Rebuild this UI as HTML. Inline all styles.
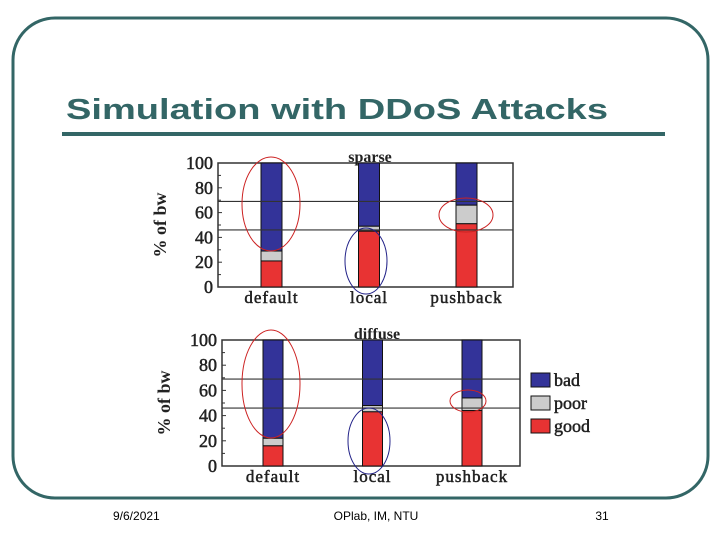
<!DOCTYPE html>
<html><head><meta charset="utf-8"><style>
html,body{margin:0;padding:0;background:#fff;}
svg{display:block;font-family:"Liberation Serif",serif;}
</style></head><body>
<svg id="s" width="720" height="540" viewBox="0 0 720 540">
<rect x="13" y="18" width="695" height="480" rx="42" ry="42" fill="none" stroke="#336666" stroke-width="3"/>
<text x="66" y="119" font-family="Liberation Sans, sans-serif" font-weight="bold" font-size="29" fill="#336666" textLength="542" lengthAdjust="spacingAndGlyphs">Simulation with DDoS Attacks</text>
<rect x="62" y="132" width="603" height="4" fill="#336666"/>
<text x="113" y="520" font-family="Liberation Sans, sans-serif" font-size="12" fill="#000">9/6/2021</text>
<text x="376" y="520" text-anchor="middle" font-family="Liberation Sans, sans-serif" font-size="12" fill="#000">OPlab, IM, NTU</text>
<text x="602" y="520" text-anchor="middle" font-family="Liberation Sans, sans-serif" font-size="12" fill="#000">31</text>
<g id="charts"></g>
</svg>
<script>
const categories=["default","local","pushback"];
const sparseGood=[21,45,51];
const sparsePoor=[8,4,15];
const diffuseGood=[16,43,44];
const diffusePoor=[6,5,10];
const yTicks=[0,20,40,60,80,100];
const refLines=[69,46];
const NS="http://www.w3.org/2000/svg";
const root=document.getElementById('charts');
function mk(t,a,p){const e=document.createElementNS(NS,t);for(const k in a)e.setAttribute(k,a[k]);(p||root).appendChild(e);return e;}
function chart(cfg,good,poor){
  const g=mk('g',{});
  
  
  const y=v=>cfg.y0-(cfg.y0-cfg.y100)*v/100;
  const bx=i=>cfg.bx[0]+i*cfg.step;
  mk('rect',{x:cfg.left,y:cfg.y100,width:cfg.right-cfg.left,height:cfg.y0-cfg.y100,fill:'none',stroke:'#333','stroke-width':1.5},g);
  yTicks.forEach(t=>{
    const tx=mk('text',{x:cfg.left-5,y:y(t)+6,'text-anchor':'end','font-size':18,fill:'#222',stroke:'#222','stroke-width':0.5},g);tx.textContent=t;
    
    
    mk('line',{x1:cfg.left,x2:cfg.left+4,y1:y(t),y2:y(t),stroke:'#333'},g);
    if(t<100)mk('line',{x1:cfg.left,x2:cfg.left+3,y1:y(t+10),y2:y(t+10),stroke:'#333'},g);
  });
  const yt=mk('text',{x:0,y:0,transform:`translate(${cfg.left-52},${(cfg.y0+cfg.y100)/2}) rotate(-90)`,'text-anchor':'middle','font-size':18,'font-weight':'bold',fill:'#222'},g);
  yt.textContent='% of bw';
  
  
  const tt=mk('text',{x:cfg.titleX,y:cfg.y100-1,'text-anchor':'middle','font-size':16,'font-weight':'bold',fill:'#222'},g);
  tt.textContent=cfg.title;
  
  
  categories.forEach((c,i)=>{
    const x=bx(i),w=cfg.bw;
    const b=mk('rect',{x:x,y:y(100),width:w,height:y(good[i]+poor[i])-y(100),fill:'#333399',stroke:'#111','stroke-width':1},g);
    
    
    const p=mk('rect',{x:x,y:y(good[i]+poor[i]),width:w,height:y(good[i])-y(good[i]+poor[i]),fill:'#cccccc',stroke:'#111','stroke-width':1},g);
    
    
    const r=mk('rect',{x:x,y:y(good[i]),width:w,height:y(0)-y(good[i]),fill:'#e83333',stroke:'#111','stroke-width':1},g);
    
    
    const l=mk('text',{x:x+w/2,y:cfg.y0+16,'text-anchor':'middle','font-size':17,fill:'#222',stroke:'#222','stroke-width':0.5,'letter-spacing':'1'},g);
    l.textContent=c;
    
    
  });
  refLines.forEach(v=>{
    const l=mk('line',{x1:cfg.left,x2:cfg.right,y1:y(v),y2:y(v),stroke:'#333','stroke-width':1.2},g);
    
    
  });
  cfg.ell.forEach(e=>{
    const el=mk('ellipse',{cx:e[0],cy:e[1],rx:e[2],ry:e[3],fill:'none',stroke:e[4],'stroke-width':1},g);
    
    
  });
}
chart({name:'sparse-chart',title:'sparse',titleX:370,left:218,right:513,y100:163,y0:287,bx:[261],step:97.5,bw:21,
  ell:[[271,204,29,47,'#cc2222'],[366,261,21,33,'#222288'],[466,215,27,17,'#cc2222']]},sparseGood,sparsePoor);
chart({name:'diffuse-chart',title:'diffuse',titleX:377,left:222,right:520,y100:340,y0:466,bx:[263],step:99.5,bw:20,
  ell:[[271,384,29,54,'#cc2222'],[369,441,21,33,'#222288'],[468,401,18,11,'#cc2222']]},diffuseGood,diffusePoor);
const legendLabels=["bad","poor","good"];
const legendColors=["#333399","#cccccc","#e83333"];
legendLabels.forEach((t,i)=>{
  const yy=373+i*23;
  const r=mk('rect',{x:531,y:yy,width:19,height:14,fill:legendColors[i],stroke:'#111'});
  
  
  const tx=mk('text',{x:554,y:yy+13,'font-size':18,fill:'#222',stroke:'#222','stroke-width':0.5});
  tx.textContent=t;
  
  
});
</script>
</body></html>
